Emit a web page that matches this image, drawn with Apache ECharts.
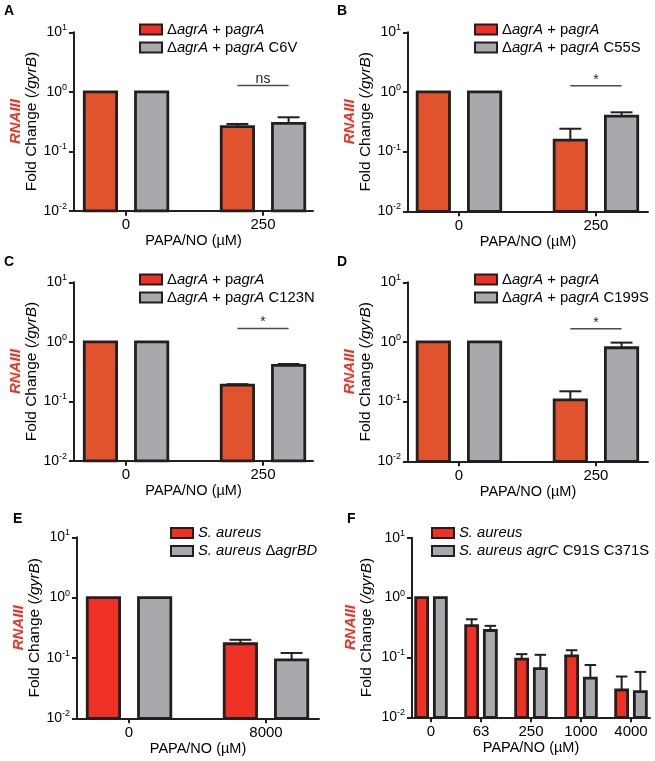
<!DOCTYPE html>
<html><head><meta charset="utf-8">
<script src="https://cdn.jsdelivr.net/npm/echarts@6/dist/echarts.min.js"></script>
<style>html,body{margin:0;padding:0;background:#fff}#c{width:655px;height:761px}</style>
</head><body><div id="c"></div>
<script>
// ---------------- DATA ----------------
const categoriesAD = ['0', '250'];
const categoriesE = ['0', '8000'];
const categoriesF = ['0', '63', '250', '1000', '4000'];
const yTickExponents = [-2, -1, 0, 1];

const nameRedAD = 'ΔagrA + pagrA';
const nameGrayA = 'ΔagrA + pagrA C6V';
const nameGrayB = 'ΔagrA + pagrA C55S';
const nameGrayC = 'ΔagrA + pagrA C123N';
const nameGrayD = 'ΔagrA + pagrA C199S';
const nameRedEF = 'S. aureus';
const nameGrayE = 'S. aureus ΔagrBD';
const nameGrayF = 'S. aureus agrC C91S C371S';

const aRed = [1.0, 0.259];   const aRedErr = [null, 0.288];
const aGray = [1.0, 0.295];  const aGrayErr = [null, 0.373];
const bRed = [1.0, 0.156];   const bRedErr = [null, 0.242];
const bGray = [1.0, 0.395];  const bGrayErr = [null, 0.456];
const cRed = [1.0, 0.187];   const cRedErr = [null, 0.194];
const cGray = [1.0, 0.403];  const cGrayErr = [null, 0.424];
const dRed = [1.0, 0.107];   const dRedErr = [null, 0.149];
const dGray = [1.0, 0.80];   const dGrayErr = [null, 0.975];
const eRed = [1.0, 0.172];   const eRedErr = [null, 0.200];
const eGray = [1.0, 0.093];  const eGrayErr = [null, 0.121];
const fRed = [1.0, 0.341, 0.094, 0.106, 0.0286];
const fRedErr = [null, 0.434, 0.1135, 0.132, 0.048];
const fGray = [1.0, 0.282, 0.065, 0.045, 0.0268];
const fGrayErr = [null, 0.337, 0.1106, 0.0748, 0.0573];

const sigA = ['ns']; const sigB = ['*']; const sigC = ['*']; const sigD = ['*'];
const sigGroup = [1];

// ---------------- STYLE / LAYOUT ----------------
const FONT = "'Liberation Sans', Arial, Helvetica, sans-serif";
const EDGE = '#231f20';
const ORANGE = '#e0532d';
const RED = '#ee3124';
const GRAY = '#a7a9ac';
const Y_MIN = 0.01, Y_MAX = 10;
const OFF = 0.187;

const legendRich = {};
legendRich[nameRedAD] = 'Δ{i|agrA} + p{i|agrA}';
legendRich[nameGrayA] = 'Δ{i|agrA} + p{i|agrA} C6V';
legendRich[nameGrayB] = 'Δ{i|agrA} + p{i|agrA} C55S';
legendRich[nameGrayC] = 'Δ{i|agrA} + p{i|agrA} C123N';
legendRich[nameGrayD] = 'Δ{i|agrA} + p{i|agrA} C199S';
legendRich[nameRedEF] = '{i|S. aureus}';
legendRich[nameGrayE] = '{i|S. aureus} Δ{i|agrBD}';
legendRich[nameGrayF] = '{i|S. aureus agrC} C91S C371S';

const panels = [
  {id:'A', left:74, top:32.3, width:239, height:178.5, xMin:-0.38, xMax:1.365, cats:categoriesAD,
   red:aRed, redErr:aRedErr, gray:aGray, grayErr:aGrayErr, redName:nameRedAD, grayName:nameGrayA,
   barColor:ORANGE, half:0.118, cap:0.08, legLeft:139, legTop:21.5, letX:4, letY:4.5, sig:sigA, sigY:1.27, nameGap:33},
  {id:'B', left:408, top:32.3, width:240, height:179, xMin:-0.372, xMax:1.38, cats:categoriesAD,
   red:bRed, redErr:bRedErr, gray:bGray, grayErr:bGrayErr, redName:nameRedAD, grayName:nameGrayB,
   barColor:ORANGE, half:0.118, cap:0.08, legLeft:474, legTop:21.5, letX:337, letY:4.5, sig:sigB, sigY:1.27, nameGap:33},
  {id:'C', left:74, top:282.3, width:239, height:178.5, xMin:-0.38, xMax:1.365, cats:categoriesAD,
   red:cRed, redErr:cRedErr, gray:cGray, grayErr:cGrayErr, redName:nameRedAD, grayName:nameGrayC,
   barColor:ORANGE, half:0.118, cap:0.08, legLeft:139, legTop:271.5, letX:4, letY:255, sig:sigC, sigY:1.67, nameGap:33},
  {id:'D', left:408, top:282.3, width:240, height:179, xMin:-0.372, xMax:1.38, cats:categoriesAD,
   red:dRed, redErr:dRedErr, gray:dGray, grayErr:dGrayErr, redName:nameRedAD, grayName:nameGrayD,
   barColor:ORANGE, half:0.118, cap:0.08, legLeft:474, legTop:271.5, letX:337, letY:255, sig:sigD, sigY:1.67, nameGap:33},
  {id:'E', left:77, top:537.3, width:242, height:181, xMin:-0.38, xMax:1.387, cats:categoriesE,
   red:eRed, redErr:eRedErr, gray:eGray, grayErr:eGrayErr, redName:nameRedEF, grayName:nameGrayE,
   barColor:RED, half:0.118, cap:0.08, legLeft:170, legTop:525, letX:13, letY:512.5, sig:null, nameGap:33},
  {id:'F', left:412, top:537.7, width:238, height:179.6, xMin:-0.38, xMax:4.38, cats:categoriesF,
   red:fRed, redErr:fRedErr, gray:fGray, grayErr:fGrayErr, redName:nameRedEF, grayName:nameGrayF,
   barColor:RED, half:0.12, cap:0.115, legLeft:431, legTop:525, letX:347, letY:512.5, sig:null, nameGap:37}
];

function makeBar(offset, fill, half, capHalf) {
  return function (params, api) {
    const x = api.value(0) + offset;
    const v = api.value(1), e = api.value(2);
    const tl = api.coord([x - half, v]);
    const br = api.coord([x + half, Y_MIN]);
    const children = [];
    if (!isNaN(e) && e > v) {
      const a = api.coord([x, v]), b = api.coord([x, e]);
      const c1 = api.coord([x - capHalf, e]), c2 = api.coord([x + capHalf, e]);
      children.push({type:'line', shape:{x1:a[0], y1:a[1], x2:b[0], y2:b[1]}, style:{stroke:EDGE, lineWidth:2}});
      children.push({type:'line', shape:{x1:c1[0], y1:c1[1], x2:c2[0], y2:c2[1]}, style:{stroke:EDGE, lineWidth:2}});
    }
    children.push({type:'rect', shape:{x:tl[0], y:tl[1], width:br[0]-tl[0], height:br[1]-tl[1]},
      style:{fill:fill, stroke:EDGE, lineWidth:2.8}});
    return {type:'group', children:children};
  };
}

function makeSig(labels) {
  return function (params, api) {
    const p1 = api.coord([api.value(0), api.value(2)]);
    const p2 = api.coord([api.value(1), api.value(2)]);
    return {type:'group', children:[
      {type:'line', shape:{x1:p1[0], y1:p1[1], x2:p2[0], y2:p2[1]}, style:{stroke:'#4d4d4d', lineWidth:1.5}},
      {type:'text', style:{text:labels[params.dataIndex], x:(p1[0]+p2[0])/2, y:p1[1] + 1,
        align:'center', verticalAlign:'bottom', fontSize:14, fontFamily:FONT, fill:EDGE}}
    ]};
  };
}

const option = {
  animation:false,
  backgroundColor:'#fff',
  title:[], grid:[], xAxis:[], yAxis:[], legend:[], series:[]
};

panels.forEach(function (p, i) {
  option.title.push({text:p.id, left:p.letX, top:p.letY, padding:0,
    textStyle:{fontSize:14, fontWeight:'bold', fontFamily:FONT, color:'#000'}});
  option.grid.push({left:p.left, top:p.top, width:p.width, height:p.height, containLabel:false, outerBoundsMode:'none'});
  const ticks = p.cats.map(function (c, k) { return k; });
  option.xAxis.push({
    type:'value', gridIndex:i, min:p.xMin, max:p.xMax,
    axisLine:{show:true, onZero:false, lineStyle:{color:EDGE, width:2}},
    axisTick:{show:true, length:5, customValues:ticks, lineStyle:{color:EDGE, width:2}},
    axisLabel:{customValues:ticks, margin:7, fontSize:15, fontFamily:FONT, color:'#000',
      formatter:function (v) { return p.cats[Math.round(v)]; }},
    splitLine:{show:false},
    name:'PAPA/NO (µM)', nameLocation:'middle', nameGap:22,
    nameTextStyle:{fontSize:14.5, fontFamily:FONT, color:'#000'}
  });
  option.yAxis.push({
    type:'log', logBase:10, gridIndex:i, min:Y_MIN, max:Y_MAX,
    axisLine:{show:true, onZero:false, lineStyle:{color:EDGE, width:2}},
    axisTick:{show:true, length:5, lineStyle:{color:EDGE, width:2}},
    minorTick:{show:false}, splitLine:{show:false},
    axisLabel:{margin:7, fontSize:14, fontFamily:FONT, color:'#000',
      formatter:function (v) {
        const ex = Math.round(Math.log10(v));
        if (yTickExponents.indexOf(ex) < 0) return '';
        return '{b|10}{s|' + ex + '}';
      },
      rich:{b:{fontSize:14, fontFamily:FONT, color:'#000'},
            s:{fontSize:9, fontFamily:FONT, color:'#000', padding:[0,0,9,0]}}},
    name:'{r|RNAIII}\n{n|Fold Change (}{i|/gyrB}{n|)}',
    nameLocation:'middle', nameRotate:90, nameGap:p.nameGap,
    nameTextStyle:{fontFamily:FONT, color:'#000', align:'center',
      rich:{r:{fontSize:15, fontWeight:'bold', fontStyle:'italic', color:RED, fontFamily:FONT, lineHeight:16, align:'center'},
            n:{fontSize:15.5, color:'#000', fontFamily:FONT, lineHeight:16},
            i:{fontSize:15.5, fontStyle:'italic', color:'#000', fontFamily:FONT, lineHeight:16}}}
  });
  option.legend.push({
    orient:'vertical', left:p.legLeft, top:p.legTop, padding:0,
    itemWidth:22, itemHeight:10, itemGap:2, icon:'rect', selectedMode:false,
    data:[
      {name:p.redName, itemStyle:{color:RED, borderColor:EDGE, borderWidth:2}},
      {name:p.grayName, itemStyle:{color:GRAY, borderColor:EDGE, borderWidth:2}}
    ],
    formatter:function (n) { return legendRich[n]; },
    textStyle:{fontSize:14.8, fontFamily:FONT, color:'#000', lineHeight:16,
      rich:{i:{fontSize:14.8, fontStyle:'italic', fontFamily:FONT, color:'#000', lineHeight:16}}}
  });
  function toData(vals, errs) {
    return vals.map(function (v, k) { return [k, v, errs[k] == null ? v : errs[k]]; });
  }
  option.series.push({type:'custom', name:p.redName, xAxisIndex:i, yAxisIndex:i,
    data:toData(p.red, p.redErr), encode:{x:0, y:1}, itemStyle:{color:p.barColor},
    renderItem:makeBar(-OFF, p.barColor, p.half, p.cap)});
  option.series.push({type:'custom', name:p.grayName, xAxisIndex:i, yAxisIndex:i,
    data:toData(p.gray, p.grayErr), encode:{x:0, y:1}, itemStyle:{color:GRAY},
    renderItem:makeBar(OFF, GRAY, p.half, p.cap)});
  if (p.sig) {
    option.series.push({type:'custom', name:'sig' + p.id, xAxisIndex:i, yAxisIndex:i,
      data:sigGroup.map(function (g) { return [g - OFF, g + OFF, p.sigY]; }),
      encode:{x:[0,1], y:2}, renderItem:makeSig(p.sig), silent:true});
  }
});

const chart = echarts.init(document.getElementById('c'), null, {renderer:'canvas'});
chart.setOption(option);
</script>
</body></html>
